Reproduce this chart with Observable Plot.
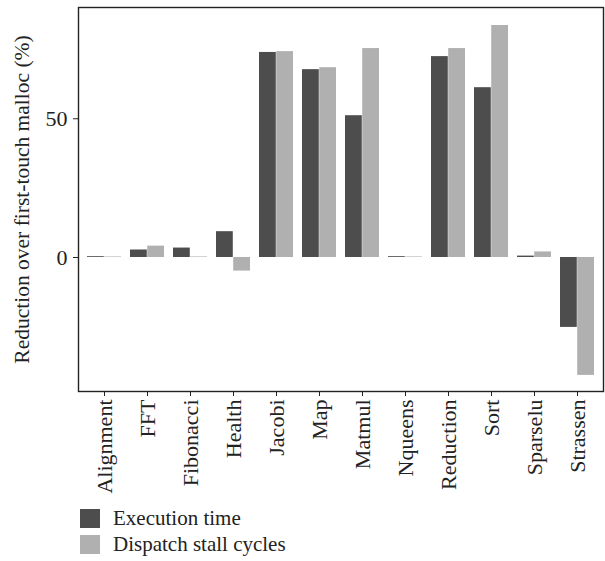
<!DOCTYPE html>
<html>
<head>
<meta charset="utf-8">
<script src="https://cdn.jsdelivr.net/npm/d3@7"></script>
<script src="https://cdn.jsdelivr.net/npm/@observablehq/plot@0.6"></script>
<style>
  body { margin: 0; background: #fff; font-family: "Liberation Serif", serif; }
  #legend { margin-left: 80px; font-size: 21px; color: #222; }
  .item { display: flex; align-items: center; height: 26px; }
  .sw { width: 20px; height: 19px; margin-right: 13px; }
</style>
</head>
<body>
<div id="chart"></div>
<div id="legend"></div>
<script>
const categories = ["Alignment","FFT","Fibonacci","Health","Jacobi","Map","Matmul","Nqueens","Reduction","Sort","Sparselu","Strassen"];
const series = ["Execution time","Dispatch stall cycles"];
const executionTime = [0.3, 2.7, 3.4, 9.3, 73.9, 67.7, 51.1, 0.3, 72.4, 61.2, 0.5, -25.2];
const dispatchStall = [0.2, 4.1, 0.2, -4.9, 74.2, 68.4, 75.3, 0.2, 75.3, 83.6, 2.0, -42.5];
const colors = ["#4d4d4d", "#b0b0b0"];
const yTicks = [0, 50];
const yLabel = "Reduction over first-touch malloc (%)";

const W = 605, H = 505, mL = 78, mR = 2, mT = 7, mB = H - 391;
const pad = 0.2;
const step = (W - mL - mR) / (categories.length - pad + 2 * pad);
const half = step * (1 - pad) / 2;

const rows = [];
categories.forEach((c, i) => {
  rows.push({cat: c, series: series[0], value: executionTime[i]});
  rows.push({cat: c, series: series[1], value: dispatchStall[i]});
});

const chart = Plot.plot({
  width: W, height: H,
  marginLeft: mL, marginRight: mR, marginTop: mT, marginBottom: mB,
  style: {fontFamily: "Liberation Serif, serif", fontSize: "20px", color: "#222", background: "#fff"},
  x: {domain: categories, padding: pad},
  y: {domain: [-48.3, 90.1]},
  color: {domain: series, range: colors},
  marks: [
    Plot.barY(rows.filter(d => d.series === series[0]), {x: "cat", y: "value", fill: "series", insetRight: half}),
    Plot.barY(rows.filter(d => d.series === series[1]), {x: "cat", y: "value", fill: "series", insetLeft: half}),
    Plot.axisY({ticks: yTicks, tickSize: 5, tickPadding: 6, fontSize: 22, label: null, stroke: "#222"}),
    Plot.text([yLabel], {text: d => d, frameAnchor: "left", dx: -56, rotate: -90, textAnchor: "middle", fontSize: 21.5, fill: "#222"}),
    Plot.axisX({tickRotate: -90, tickSize: 5, tickPadding: 3, label: null, stroke: "#222", fontSize: 22}),
    Plot.frame({stroke: "#222", strokeWidth: 1.4})
  ]
});
document.getElementById("chart").appendChild(chart);

const legend = document.getElementById("legend");
series.forEach((s, i) => {
  const item = document.createElement("div");
  item.className = "item";
  const sw = document.createElement("div");
  sw.className = "sw";
  sw.style.background = colors[i];
  const t = document.createElement("span");
  t.textContent = s;
  item.appendChild(sw);
  item.appendChild(t);
  legend.appendChild(item);
});
</script>
</body>
</html>
